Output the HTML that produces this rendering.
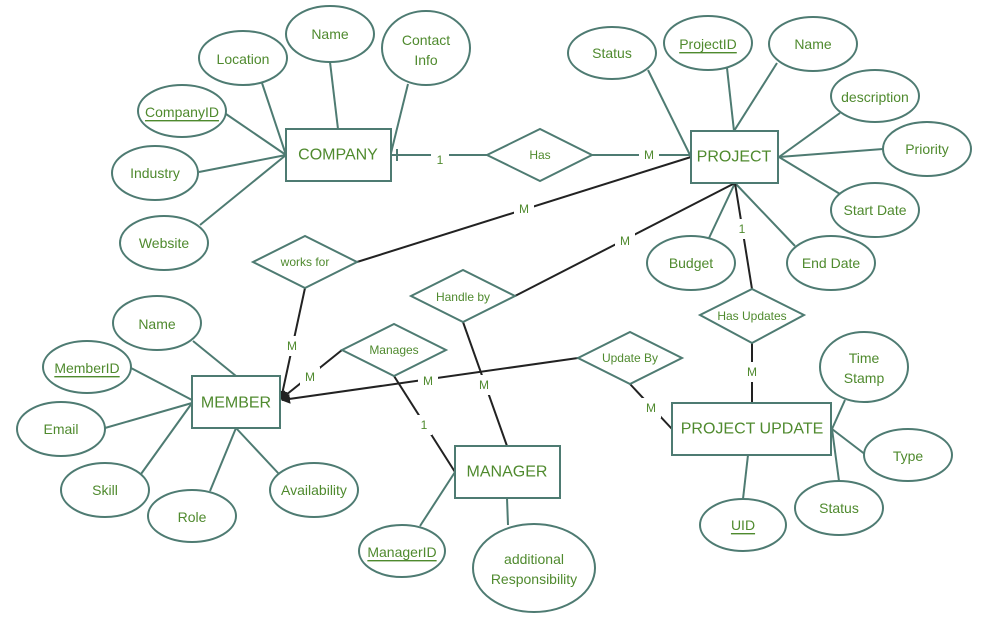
<!DOCTYPE html>
<html><head><meta charset="utf-8"><style>
html,body{margin:0;padding:0;background:#fff;}
svg{display:block;}
text{font-family:"Liberation Sans",sans-serif;fill:#4f8a2e;text-anchor:middle;dominant-baseline:central;}
.e{fill:#fff;stroke:#4e7b72;stroke-width:2;}
.l{stroke:#4e7b72;stroke-width:2;fill:none;}
.b{stroke:#222;stroke-width:2;fill:none;}
.a{font-size:14px;}
.n{font-size:16px;}
.d{font-size:12px;}
.c{font-size:12px;}
.lb{fill:#fff;stroke:none;}
</style></head><body>
<svg width="989" height="630" viewBox="0 0 989 630" xmlns="http://www.w3.org/2000/svg">
<defs><marker id="ar" markerWidth="10" markerHeight="10" refX="8" refY="5" orient="auto" markerUnits="userSpaceOnUse"><path d="M0,0 L9,5 L0,10 z" fill="#222"/></marker></defs>
<g class="l">
<line x1="262" y1="83" x2="286" y2="155"/><line x1="226" y1="114" x2="286" y2="155"/><line x1="199" y1="172" x2="286" y2="155"/><line x1="200" y1="225" x2="286" y2="155"/><line x1="330" y1="62" x2="338" y2="129"/><line x1="408" y1="84" x2="391" y2="153"/>
<line x1="391" y1="155" x2="487" y2="155"/><line x1="397" y1="149" x2="397" y2="161"/>
<line x1="592" y1="155" x2="691" y2="155"/>
<line x1="648" y1="70" x2="691" y2="157"/><line x1="727" y1="68" x2="734" y2="131"/><line x1="777" y1="63" x2="734" y2="131"/><line x1="840" y1="113" x2="779" y2="157"/><line x1="883" y1="149" x2="779" y2="157"/><line x1="840" y1="194" x2="779" y2="157"/><line x1="795" y1="246" x2="735" y2="183"/><line x1="709" y1="238" x2="735" y2="183"/>
<line x1="193" y1="341" x2="236" y2="376"/><line x1="131" y1="368" x2="192" y2="400"/><line x1="105" y1="428" x2="192" y2="403"/><line x1="141" y1="474" x2="192" y2="403"/><line x1="210" y1="491" x2="236" y2="428"/><line x1="279" y1="474" x2="236" y2="428"/>
<line x1="455" y1="472" x2="420" y2="526"/><line x1="507" y1="498" x2="508" y2="525"/>
<line x1="845" y1="400" x2="832" y2="429"/><line x1="866" y1="455" x2="832" y2="429"/><line x1="839" y1="481" x2="832" y2="429"/><line x1="748" y1="455" x2="743" y2="499"/>
</g>
<g class="b">
<line x1="735" y1="183" x2="752" y2="289"/>
<line x1="752" y1="343" x2="752" y2="403"/>
<line x1="691" y1="157" x2="357" y2="262"/>
<line x1="305" y1="288" x2="281" y2="399" marker-end="url(#ar)"/>
<line x1="735" y1="183" x2="515" y2="296"/>
<line x1="463" y1="322" x2="507" y2="446"/>
<line x1="342" y1="350" x2="281" y2="399" marker-end="url(#ar)"/>
<line x1="394" y1="376" x2="455" y2="472"/>
<line x1="578" y1="358" x2="282" y2="400" marker-end="url(#ar)"/>
<line x1="630" y1="384" x2="672" y2="429"/>
</g>
<g>
<rect class="lb" x="431" y="150" width="18" height="18"/><text class="c" x="440" y="160">1</text>
<rect class="lb" x="639" y="146" width="20" height="18"/><text class="c" x="649" y="155">M</text>
<rect class="lb" x="514" y="200" width="20" height="18"/><text class="c" x="524" y="209">M</text>
<rect class="lb" x="615" y="232" width="20" height="18"/><text class="c" x="625" y="241">M</text>
<rect class="lb" x="735" y="219" width="14" height="20"/><text class="c" x="742" y="229">1</text>
<rect class="lb" x="742" y="362" width="20" height="20"/><text class="c" x="752" y="372">M</text>
<rect class="lb" x="282" y="336" width="20" height="20"/><text class="c" x="292" y="346">M</text>
<rect class="lb" x="300" y="367" width="20" height="20"/><text class="c" x="310" y="377">M</text>
<rect class="lb" x="418" y="371" width="20" height="20"/><text class="c" x="428" y="381">M</text>
<rect class="lb" x="474" y="375" width="20" height="20"/><text class="c" x="484" y="385">M</text>
<rect class="lb" x="416" y="415" width="16" height="20"/><text class="c" x="424" y="425">1</text>
<rect class="lb" x="641" y="398" width="20" height="20"/><text class="c" x="651" y="408">M</text>
</g>
<rect class="e" x="286" y="129" width="105" height="52"/><text class="n" x="338" y="155">COMPANY</text>
<rect class="e" x="691" y="131" width="87" height="52"/><text class="n" x="734" y="157">PROJECT</text>
<rect class="e" x="192" y="376" width="88" height="52"/><text class="n" x="236" y="403">MEMBER</text>
<rect class="e" x="455" y="446" width="105" height="52"/><text class="n" x="507" y="472">MANAGER</text>
<rect class="e" x="672" y="403" width="159" height="52"/><text class="n" x="752" y="429">PROJECT UPDATE</text>
<polygon class="e" points="487,155 540,129 592,155 540,181"/><text class="d" x="540" y="155">Has</text>
<polygon class="e" points="253,262 305,236 357,262 305,288"/><text class="d" x="305" y="262">works for</text>
<polygon class="e" points="411,296 463,270 515,296 463,322"/><text class="d" x="463" y="297">Handle by</text>
<polygon class="e" points="342,350 394,324 446,350 394,376"/><text class="d" x="394" y="350">Manages</text>
<polygon class="e" points="578,358 630,332 682,358 630,384"/><text class="d" x="630" y="358">Update By</text>
<polygon class="e" points="700,315 752,289 804,315 752,343"/><text class="d" x="752" y="316">Has Updates</text>
<g class="a">
<ellipse class="e" cx="330" cy="34" rx="44" ry="28"/><text x="330" y="34">Name</text>
<ellipse class="e" cx="426" cy="48" rx="44" ry="37"/><text x="426" y="40">Contact</text><text x="426" y="60">Info</text>
<ellipse class="e" cx="243" cy="58" rx="44" ry="27"/><text x="243" y="59">Location</text>
<ellipse class="e" cx="182" cy="111" rx="44" ry="26"/><text x="182" y="112" text-decoration="underline">CompanyID</text>
<ellipse class="e" cx="155" cy="173" rx="43" ry="27"/><text x="155" y="173">Industry</text>
<ellipse class="e" cx="164" cy="243" rx="44" ry="27"/><text x="164" y="243">Website</text>
<ellipse class="e" cx="612" cy="53" rx="44" ry="26"/><text x="612" y="53">Status</text>
<ellipse class="e" cx="708" cy="43" rx="44" ry="27"/><text x="708" y="44" text-decoration="underline">ProjectID</text>
<ellipse class="e" cx="813" cy="44" rx="44" ry="27"/><text x="813" y="44">Name</text>
<ellipse class="e" cx="875" cy="96" rx="44" ry="26"/><text x="875" y="97">description</text>
<ellipse class="e" cx="927" cy="149" rx="44" ry="27"/><text x="927" y="149">Priority</text>
<ellipse class="e" cx="875" cy="210" rx="44" ry="27"/><text x="875" y="210">Start Date</text>
<ellipse class="e" cx="831" cy="263" rx="44" ry="27"/><text x="831" y="263">End Date</text>
<ellipse class="e" cx="691" cy="263" rx="44" ry="27"/><text x="691" y="263">Budget</text>
<ellipse class="e" cx="157" cy="323" rx="44" ry="27"/><text x="157" y="324">Name</text>
<ellipse class="e" cx="87" cy="367" rx="44" ry="26"/><text x="87" y="368" text-decoration="underline">MemberID</text>
<ellipse class="e" cx="61" cy="429" rx="44" ry="27"/><text x="61" y="429">Email</text>
<ellipse class="e" cx="105" cy="490" rx="44" ry="27"/><text x="105" y="490">Skill</text>
<ellipse class="e" cx="192" cy="516" rx="44" ry="26"/><text x="192" y="517">Role</text>
<ellipse class="e" cx="314" cy="490" rx="44" ry="27"/><text x="314" y="490">Availability</text>
<ellipse class="e" cx="402" cy="551" rx="43" ry="26"/><text x="402" y="552" text-decoration="underline">ManagerID</text>
<ellipse class="e" cx="534" cy="568" rx="61" ry="44"/><text x="534" y="559">additional</text><text x="534" y="579">Responsibility</text>
<ellipse class="e" cx="864" cy="367" rx="44" ry="35"/><text x="864" y="358">Time</text><text x="864" y="378">Stamp</text>
<ellipse class="e" cx="908" cy="455" rx="44" ry="26"/><text x="908" y="456">Type</text>
<ellipse class="e" cx="839" cy="508" rx="44" ry="27"/><text x="839" y="508">Status</text>
<ellipse class="e" cx="743" cy="525" rx="43" ry="26"/><text x="743" y="525" text-decoration="underline">UID</text>
</g>
</svg>
</body></html>
